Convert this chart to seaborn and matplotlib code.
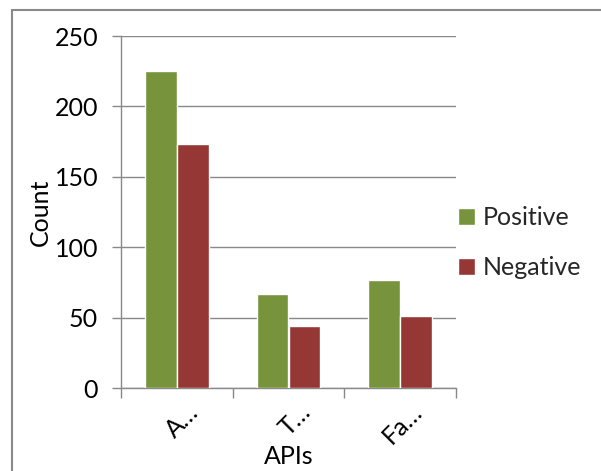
import matplotlib
matplotlib.use("Agg")
import matplotlib.pyplot as plt
import matplotlib.transforms as mtransforms
from matplotlib.lines import Line2D
import seaborn as sns
import pandas as pd

categories = ["A…", "T…", "Fa…"]
positive = [225, 67, 77]
negative = [173, 44, 51]
series_names = ["Positive", "Negative"]

df = pd.DataFrame({
    "APIs": categories * 2,
    "Count": positive + negative,
    "Series": [series_names[0]] * 3 + [series_names[1]] * 3,
})

sns.set_theme(style="white")
plt.rcParams["font.family"] = ["Lato", "DejaVu Sans"]

W, H = 601, 471
fig = plt.figure(figsize=(W / 100, H / 100), dpi=100)
ax = fig.add_axes([121 / W, 1 - 388 / H, (456 - 121) / W, (388 - 36) / H])

sns.barplot(data=df, x="APIs", y="Count", hue="Series",
            palette=["#77933C", "#953735"], width=0.57, saturation=1,
            ax=ax, zorder=3)

GRID = "#898989"
FS = 18
ax.set_ylim(0, 250)
ax.set_xlim(-0.5, 2.5)
ax.set_yticks([0, 50, 100, 150, 200, 250])
ax.yaxis.grid(True, color=GRID, linewidth=1.0, zorder=0)
ax.set_axisbelow(True)
for s in ["top", "right"]:
    ax.spines[s].set_visible(False)
for s in ["left", "bottom"]:
    ax.spines[s].set_color(GRID)
    ax.spines[s].set_linewidth(1.0)

ax.tick_params(axis="y", which="major", length=6.5, width=1.0, color=GRID,
               direction="out", labelsize=FS, left=True, pad=10,
               labelcolor="black")
ax.set_xticks([0, 1, 2])
ax.set_xticklabels(categories, rotation=45, ha="right", va="center",
                   rotation_mode="anchor", fontsize=FS, color="black")
ax.tick_params(axis="x", which="major", length=0, pad=14.5)
offset = mtransforms.ScaledTranslation(18 / 100, 0, fig.dpi_scale_trans)
for lab in ax.get_xticklabels():
    lab.set_transform(lab.get_transform() + offset)
ax.set_xticks([-0.5, 0.5, 1.5, 2.5], minor=True)
ax.tick_params(axis="x", which="minor", length=7, width=1.0, color=GRID,
               direction="out", bottom=True)

ax.set_xlabel("APIs", fontsize=FS, color="black")
ax.xaxis.set_label_coords(0.5, -(457 - 388) / 352)
ax.xaxis.label.set_va("center")
ax.set_ylabel("Count", fontsize=FS, color="black", labelpad=2)

handles, labels = ax.get_legend_handles_labels()
fig.legend(handles, labels, loc="center left",
           bbox_to_anchor=(458 / W, 1 - 242.5 / H),
           bbox_transform=fig.transFigure,
           frameon=False, fontsize=FS, handlelength=0.68, handleheight=0.68,
           handletextpad=0.32, labelspacing=1.08, borderaxespad=0.0,
           borderpad=0.0)
ax.get_legend().remove()

fig.lines.append(Line2D([12 / W, 12 / W], [0, 1 - 10 / H],
                        transform=fig.transFigure, color=GRID, linewidth=1.5))
fig.lines.append(Line2D([12 / W, 1], [1 - 10 / H, 1 - 10 / H],
                        transform=fig.transFigure, color=GRID, linewidth=1.5))

fig.savefig("out.png", dpi=100)
